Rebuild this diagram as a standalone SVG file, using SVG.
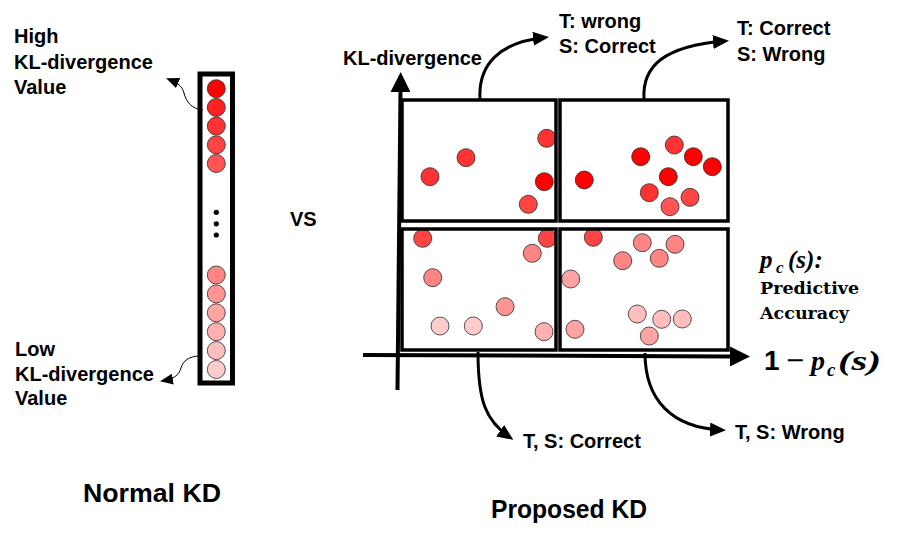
<svg xmlns="http://www.w3.org/2000/svg" width="897" height="541" viewBox="0 0 897 541">
<style>
.lbl{font-family:"Liberation Sans",Arial,sans-serif;font-weight:bold;font-size:20px;fill:#000}
.ttl{font-family:"Liberation Sans",Arial,sans-serif;font-weight:bold;font-size:26px;fill:#000}
.math{font-family:"Liberation Serif","Times New Roman",serif;font-weight:bold;font-style:italic;fill:#000}
.ser{font-family:"DejaVu Serif",serif;font-weight:bold;font-size:17.5px;fill:#000}
.box{fill:none;stroke:#000;stroke-width:3.5}
.col{fill:none;stroke:#000;stroke-width:5}
.axis{fill:none;stroke:#000;stroke-width:4}
.thick{fill:none;stroke:#000;stroke-width:3}
.thin{fill:none;stroke:#000;stroke-width:1}
.c{stroke:#2a2a2a;stroke-width:0.8}
.f0{fill:#FF0000}.f1{fill:#FF2222}.f2{fill:#FF3333}.f3{fill:#FF4444}.f4{fill:#FF5555}
.f5{fill:#FF8585}.f6{fill:#FF9494}.f7{fill:#FFA3A3}.f8{fill:#FFB0B0}.f9{fill:#FFBEBE}.f10{fill:#FFCCCC}
</style>
<defs>
<marker id="axHead" viewBox="0 0 20 20" refX="1" refY="10" markerWidth="20" markerHeight="20" markerUnits="userSpaceOnUse" orient="auto">
<path d="M0,0 L20,10 L0,20 z" fill="#000"/>
</marker>
<marker id="head" viewBox="0 0 16 14" refX="12" refY="7" markerWidth="16" markerHeight="14" markerUnits="userSpaceOnUse" orient="auto">
<path d="M0,0 L16,7 L0,14 z" fill="#000"/>
</marker>
<marker id="smallHead" viewBox="0 0 13 11" refX="11" refY="5.5" markerWidth="13" markerHeight="11" markerUnits="userSpaceOnUse" orient="auto">
<path d="M0,0 L13,5.5 L0,11 z" fill="#000"/>
</marker>
</defs>

<g id="normal-kd">
<rect class="col" x="200" y="74" width="32.5" height="309"/>
<circle class="c f0" cx="216.3" cy="88.7" r="9"/>
<circle class="c f1" cx="216.3" cy="107.4" r="9"/>
<circle class="c f2" cx="216.3" cy="126.1" r="9"/>
<circle class="c f3" cx="216.3" cy="144.8" r="9"/>
<circle class="c f4" cx="216.3" cy="163.5" r="9"/>
<circle cx="216.3" cy="212.3" r="2.6" fill="#000"/>
<circle cx="216.3" cy="223.8" r="2.6" fill="#000"/>
<circle cx="216.3" cy="235" r="2.6" fill="#000"/>
<circle class="c f5" cx="216.3" cy="275" r="9"/>
<circle class="c f6" cx="216.3" cy="293.9" r="9"/>
<circle class="c f7" cx="216.3" cy="312.8" r="9"/>
<circle class="c f8" cx="216.3" cy="331.7" r="9"/>
<circle class="c f9" cx="216.3" cy="350.6" r="9"/>
<circle class="c f10" cx="216.3" cy="369.5" r="9"/>
</g>

<g id="high-label">
<text class="lbl" x="14" y="43">High</text>
<text class="lbl" x="14" y="69">KL-divergence</text>
<text class="lbl" x="14" y="94">Value</text>
</g>
<g id="low-label">
<text class="lbl" x="15" y="356">Low</text>
<text class="lbl" x="15" y="381">KL-divergence</text>
<text class="lbl" x="15" y="405">Value</text>
</g>
<g id="vs"><text class="lbl" x="290" y="226" font-size="21">VS</text></g>

<g id="axes">
<path class="axis" d="M397.5,390 L400.5,91" marker-end="url(#axHead)"/>
<path class="axis" d="M363,355 L731,356.5" marker-end="url(#axHead)"/>
<text class="lbl" x="343" y="65">KL-divergence</text>
</g>

<g id="q-tl">
<circle class="c f2" cx="430" cy="176.7" r="9"/>
<circle class="c f2" cx="466" cy="157.7" r="9"/>
<circle class="c f2" cx="546.7" cy="138.3" r="9"/>
<circle class="c f0" cx="544.3" cy="181.7" r="9"/>
<circle class="c f3" cx="528.3" cy="204.3" r="9"/>
<rect class="box" x="402" y="100" width="154" height="121"/>
</g>
<g id="q-tr">
<circle class="c f0" cx="584.3" cy="180" r="9"/>
<circle class="c f0" cx="640.7" cy="156.7" r="9"/>
<circle class="c f2" cx="674.3" cy="145" r="9"/>
<circle class="c f0" cx="693.3" cy="156.7" r="9"/>
<circle class="c f0" cx="712.3" cy="166.7" r="9"/>
<circle class="c f0" cx="668.3" cy="176.7" r="9"/>
<circle class="c f2" cx="649.3" cy="192.7" r="9"/>
<circle class="c f3" cx="690" cy="197.3" r="9"/>
<circle class="c f4" cx="670" cy="206.7" r="9"/>
<rect class="box" x="560" y="100" width="168" height="121"/>
</g>
<g id="q-bl">
<circle class="c f3" cx="422.7" cy="238.3" r="9"/>
<circle class="c f3" cx="547.3" cy="238.3" r="9"/>
<circle class="c f5" cx="532.3" cy="253.3" r="9"/>
<circle class="c f5" cx="432.7" cy="277.7" r="9"/>
<circle class="c f6" cx="505" cy="306.7" r="9"/>
<circle class="c f10" cx="440" cy="326" r="9"/>
<circle class="c f10" cx="473.3" cy="326" r="9"/>
<circle class="c f8" cx="544" cy="331.7" r="9"/>
<rect class="box" x="402" y="229" width="154" height="121"/>
</g>
<g id="q-br">
<circle class="c f3" cx="593.3" cy="237.3" r="9"/>
<circle class="c f5" cx="642.3" cy="242.7" r="9"/>
<circle class="c f5" cx="675" cy="244.3" r="9"/>
<circle class="c f5" cx="622.7" cy="260.7" r="9"/>
<circle class="c f5" cx="659.3" cy="258.3" r="9"/>
<circle class="c f7" cx="570.7" cy="279" r="9"/>
<circle class="c f9" cx="637.3" cy="314" r="9"/>
<circle class="c f9" cx="661.7" cy="319.3" r="9"/>
<circle class="c f9" cx="682.3" cy="319" r="9"/>
<circle class="c f7" cx="649.3" cy="336" r="9"/>
<circle class="c f7" cx="575" cy="329.3" r="9"/>
<rect class="box" x="560" y="229" width="168" height="121"/>
</g>

<g id="connectors">
<path class="thin" d="M203,110 C192,109 186,102 184,93 C182,86 178,83 168,79" marker-end="url(#smallHead)"/>
<path class="thin" d="M200,356 C189,356 183,361 181,368 C179,375 174,379 162,381" marker-end="url(#smallHead)"/>
<path class="thick" d="M480,99 C478,64 500,42 545,37.5" marker-end="url(#head)"/>
<path class="thick" d="M644,99 C642,66 664,46 725,41" marker-end="url(#head)"/>
<path class="thick" d="M478,352 C478,402 486,421 510,437.5" marker-end="url(#head)"/>
<path class="thick" d="M645,353 C645,400 672,428 722,430" marker-end="url(#head)"/>
</g>

<g id="labels-quadrants">
<text class="lbl" x="559" y="28">T: wrong</text>
<text class="lbl" x="559" y="53">S: Correct</text>
<text class="lbl" x="737" y="35">T: Correct</text>
<text class="lbl" x="737" y="61">S: Wrong</text>
<text class="lbl" x="523" y="448">T, S: Correct</text>
<text class="lbl" x="735" y="439">T, S: Wrong</text>
</g>

<g id="legend">
<text class="math" font-size="25"><tspan x="760" y="268">p</tspan><tspan x="776" y="273" font-size="17">c</tspan><tspan x="788" y="268">(s):</tspan></text>
<text class="ser" x="760" y="294">Predictive</text>
<text class="ser" x="760" y="319">Accuracy</text>
<text font-size="28" y="370" x="764" font-family="Liberation Sans,Arial,sans-serif" font-weight="bold">1</text>
<text font-size="24" y="368" x="785" font-family="DejaVu Sans,sans-serif">−</text>
<text class="math" font-size="28"><tspan x="811" y="370">p</tspan><tspan x="827" y="376" font-size="19">c</tspan><tspan x="838" y="370" textLength="43" lengthAdjust="spacingAndGlyphs">(s)</tspan></text>
</g>

<g id="titles">
<text class="ttl" x="83" y="502" textLength="138" lengthAdjust="spacingAndGlyphs">Normal KD</text>
<text class="ttl" x="491" y="518" textLength="156" lengthAdjust="spacingAndGlyphs">Proposed KD</text>
</g>
</svg>
